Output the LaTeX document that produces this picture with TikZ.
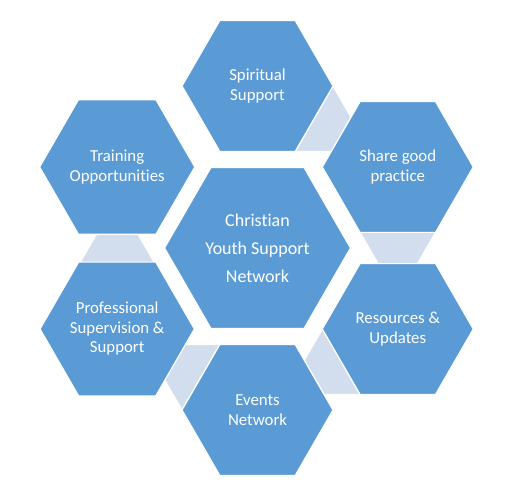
\documentclass[tikz,border=0pt]{standalone}
\usepackage{fontspec}
\setmainfont{Carlito}[Ligatures={NoCommon,NoContextual}]
\usetikzlibrary{shapes.geometric,calc,backgrounds}
\definecolor{hexblue}{HTML}{5B9BD5}
\definecolor{hexlight}{HTML}{D2DDEE}
\begin{document}
\begin{tikzpicture}[x=1pt,y=1pt,
  hexbox/.style={regular polygon, regular polygon sides=6, minimum size=151pt, inner sep=0pt,
    fill=hexblue, draw=white, line width=1.2pt, text=white, align=center,
    font=\fontsize{16.8}{19.5}\selectfont},
  bighex/.style={hexbox, minimum size=186pt, font=\fontsize{18}{28}\selectfont},
  gapbox/.style={fill=hexlight, draw=white, line width=1.2pt}]
\useasboundingbox (0,0) rectangle (526,490);
\coordinate (C) at (257.5,242);
\node[bighex] (hub) at (C) {Christian\\Youth Support\\Network};
\node[hexbox] (spirit) at ($(C)+(90:162)$) {Spiritual\\Support};
\node[hexbox] (share) at ($(C)+(30:162)$) {Share good\\practice};
\node[hexbox] (res) at ($(C)+(-30:162)$) {Resources \&\\Updates};
\node[hexbox] (events) at ($(C)+(-90:162)$) {Events\\Network};
\node[hexbox] (prof) at ($(C)+(-150:162)$) {Professional\\Supervision \&\\Support};
\node[hexbox] (train) at ($(C)+(150:162)$) {Training\\Opportunities};
\begin{scope}[on background layer]
\foreach \a/\b/\ang in {spirit/share/-30, share/res/-90, res/events/-150, events/prof/150, prof/train/90} {
  \filldraw[gapbox]
    ($(\a.center)+(\ang:65.4)+(\ang+90:37.75)$) --
    ($(\a.center)+(\ang:65.4)+(\ang-90:37.75)$) --
    ($(\a.center)+(\ang:96.6)+(\ang-90:19.7)$) --
    ($(\a.center)+(\ang:96.6)+(\ang+90:19.7)$) -- cycle;
}
\end{scope}
\end{tikzpicture}
\end{document}
